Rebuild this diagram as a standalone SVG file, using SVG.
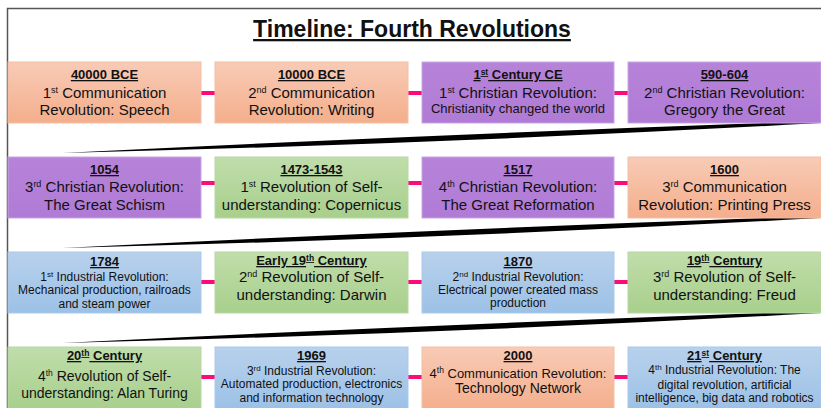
<svg xmlns="http://www.w3.org/2000/svg" width="821" height="408" viewBox="0 0 821 408">
<defs>
<linearGradient id="gO" x1="0" y1="0" x2="0" y2="1"><stop offset="0" stop-color="#F8CBB6"/><stop offset="1" stop-color="#F4AE8C"/></linearGradient>
<linearGradient id="gP" x1="0" y1="0" x2="0" y2="1"><stop offset="0" stop-color="#B783D9"/><stop offset="1" stop-color="#B07BD5"/></linearGradient>
<linearGradient id="gG" x1="0" y1="0" x2="0" y2="1"><stop offset="0" stop-color="#C0DDAB"/><stop offset="1" stop-color="#A8CF8C"/></linearGradient>
<linearGradient id="gB" x1="0" y1="0" x2="0" y2="1"><stop offset="0" stop-color="#B8D1EC"/><stop offset="1" stop-color="#9CC1E6"/></linearGradient>
</defs>
<style>
text{font-family:"Liberation Sans",Arial,sans-serif;fill:#111;text-anchor:middle}
.date{font-size:13px;font-weight:bold;text-decoration:underline}
.t15{font-size:15px}.t14{font-size:14px}.t13{font-size:13px}.t12{font-size:12px}
.o{fill:url(#gO);stroke:#F2BFA4;stroke-width:1}
.p{fill:url(#gP);stroke:#C8A5E4;stroke-width:1}
.g{fill:url(#gG);stroke:#B8D7A3;stroke-width:1}
.b{fill:url(#gB);stroke:#ABC9EA;stroke-width:1}
.con{stroke:#FA0D78;stroke-width:4}
.sw{fill:#000}
</style>
<rect width="821" height="408" fill="#fff"/>
<path d="M7.5 408 V8.5 H821" fill="none" stroke="#555" stroke-width="1.5"/>
<text x="412" y="37" style="font-size:23px;font-weight:bold;text-decoration:underline">Timeline: Fourth Revolutions</text>

<g id="connectors">
<line class="con" x1="201" y1="93" x2="215" y2="93"/>
<line class="con" x1="408" y1="93" x2="422" y2="93"/>
<line class="con" x1="614" y1="93" x2="628" y2="93"/>
<line class="con" x1="201" y1="183" x2="215" y2="183"/>
<line class="con" x1="408" y1="183" x2="422" y2="183"/>
<line class="con" x1="614" y1="183" x2="628" y2="183"/>
<line class="con" x1="201" y1="282" x2="215" y2="282"/>
<line class="con" x1="408" y1="282" x2="422" y2="282"/>
<line class="con" x1="614" y1="282" x2="628" y2="282"/>
<line class="con" x1="201" y1="377" x2="215" y2="377"/>
<line class="con" x1="408" y1="377" x2="422" y2="377"/>
<line class="con" x1="614" y1="377" x2="628" y2="377"/>
<path class="sw" d="M821 121 Q440 134 62 153 Q440 144 821 123 Z"/>
<path class="sw" d="M821 216 Q440 229 62 248 Q440 239 821 218 Z"/>
<path class="sw" d="M821 311 Q440 324 62 343 Q440 334 821 313 Z"/>
</g>

<g id="n1"><rect class="o" x="8" y="62" width="193" height="61"/>
<text x="104.5" y="79" class="date">40000 BCE</text>
<text x="104.5" y="98" class="t15">1<tspan dy="-5" font-size="9">st</tspan><tspan dy="5"> Communication</tspan></text>
<text x="104.5" y="115" class="t15">Revolution: Speech</text></g>

<g id="n2"><rect class="o" x="215" y="62" width="193" height="61"/>
<text x="311.5" y="79" class="date">10000 BCE</text>
<text x="311.5" y="98" class="t15">2<tspan dy="-5" font-size="9">nd</tspan><tspan dy="5"> Communication</tspan></text>
<text x="311.5" y="115" class="t15">Revolution: Writing</text></g>

<g id="n3"><rect class="p" x="422" y="62" width="192" height="61"/>
<text x="518" y="79" class="date">1<tspan dy="-4" font-size="8.5">st</tspan><tspan dy="4"> Century CE</tspan></text>
<text x="518" y="98" class="t15">1<tspan dy="-5" font-size="9">st</tspan><tspan dy="5"> Christian Revolution:</tspan></text>
<text x="518" y="113" class="t13">Christianity changed the world</text></g>

<g id="n4"><rect class="p" x="628" y="62" width="193" height="61"/>
<text x="724.5" y="79" class="date">590-604</text>
<text x="724.5" y="98" class="t15">2<tspan dy="-5" font-size="9">nd</tspan><tspan dy="5"> Christian Revolution:</tspan></text>
<text x="724.5" y="115" class="t15">Gregory the Great</text></g>

<g id="n5"><rect class="p" x="8" y="157" width="193" height="61"/>
<text x="104.5" y="174" class="date">1054</text>
<text x="104.5" y="192" class="t15">3<tspan dy="-5" font-size="9">rd</tspan><tspan dy="5"> Christian Revolution:</tspan></text>
<text x="104.5" y="210" class="t15">The Great Schism</text></g>

<g id="n6"><rect class="g" x="215" y="157" width="193" height="61"/>
<text x="311.5" y="174" class="date">1473-1543</text>
<text x="311.5" y="192" class="t15">1<tspan dy="-5" font-size="9">st</tspan><tspan dy="5"> Revolution of Self-</tspan></text>
<text x="311.5" y="210" class="t15">understanding: Copernicus</text></g>

<g id="n7"><rect class="p" x="422" y="157" width="192" height="61"/>
<text x="518" y="174" class="date">1517</text>
<text x="518" y="192" class="t15">4<tspan dy="-5" font-size="9">th</tspan><tspan dy="5"> Christian Revolution:</tspan></text>
<text x="518" y="210" class="t15">The Great Reformation</text></g>

<g id="n8"><rect class="o" x="628" y="157" width="193" height="61"/>
<text x="724.5" y="174" class="date">1600</text>
<text x="724.5" y="192" class="t15">3<tspan dy="-5" font-size="9">rd</tspan><tspan dy="5"> Communication</tspan></text>
<text x="724.5" y="210" class="t15">Revolution: Printing Press</text></g>

<g id="n9"><rect class="b" x="8" y="252" width="193" height="61"/>
<text x="104.5" y="266" class="date">1784</text>
<text x="104.5" y="281" class="t12">1<tspan dy="-4" font-size="8">st</tspan><tspan dy="4"> Industrial Revolution:</tspan></text>
<text x="104.5" y="294" class="t12">Mechanical production, railroads</text>
<text x="104.5" y="308" class="t12">and steam power</text></g>

<g id="n10"><rect class="g" x="215" y="252" width="193" height="61"/>
<text x="311.5" y="265" class="date">Early 19<tspan dy="-4" font-size="8.5">th</tspan><tspan dy="4"> Century</tspan></text>
<text x="311.5" y="282" class="t15">2<tspan dy="-5" font-size="9">nd</tspan><tspan dy="5"> Revolution of Self-</tspan></text>
<text x="311.5" y="300" class="t15">understanding: Darwin</text></g>

<g id="n11"><rect class="b" x="422" y="252" width="192" height="61"/>
<text x="518" y="266" class="date">1870</text>
<text x="518" y="281" class="t12">2<tspan dy="-4" font-size="8">nd</tspan><tspan dy="4"> Industrial Revolution:</tspan></text>
<text x="518" y="294" class="t12">Electrical power created mass</text>
<text x="518" y="307" class="t12">production</text></g>

<g id="n12"><rect class="g" x="628" y="252" width="193" height="61"/>
<text x="724.5" y="265" class="date">19<tspan dy="-4" font-size="8.5">th</tspan><tspan dy="4"> Century</tspan></text>
<text x="724.5" y="282" class="t15">3<tspan dy="-5" font-size="9">rd</tspan><tspan dy="5"> Revolution of Self-</tspan></text>
<text x="724.5" y="300" class="t15">understanding: Freud</text></g>

<g id="n13"><rect class="g" x="8" y="347" width="193" height="63"/>
<text x="104.5" y="360" class="date">20<tspan dy="-4" font-size="8.5">th</tspan><tspan dy="4"> Century</tspan></text>
<text x="104.5" y="381" class="t14">4<tspan dy="-5" font-size="8.5">th</tspan><tspan dy="5"> Revolution of Self-</tspan></text>
<text x="104.5" y="398" class="t14">understanding: Alan Turing</text></g>

<g id="n14"><rect class="b" x="215" y="347" width="193" height="63"/>
<text x="311.5" y="360" class="date">1969</text>
<text x="311.5" y="375" class="t12">3<tspan dy="-4" font-size="8">rd</tspan><tspan dy="4"> Industrial Revolution:</tspan></text>
<text x="311.5" y="388" class="t12">Automated production, electronics</text>
<text x="311.5" y="402" class="t12">and information technology</text></g>

<g id="n15"><rect class="o" x="422" y="347" width="192" height="63"/>
<text x="518" y="360" class="date">2000</text>
<text x="518" y="378" class="t13">4<tspan dy="-5" font-size="8.5">th</tspan><tspan dy="5"> Communication Revolution:</tspan></text>
<text x="518" y="393" class="t14">Technology Network</text></g>

<g id="n16"><rect class="b" x="628" y="347" width="193" height="63"/>
<text x="724.5" y="360" class="date">21<tspan dy="-4" font-size="8.5">st</tspan><tspan dy="4"> Century</tspan></text>
<text x="724.5" y="374" class="t12">4<tspan dy="-4" font-size="8">th</tspan><tspan dy="4"> Industrial Revolution: The</tspan></text>
<text x="724.5" y="389" class="t12">digital revolution, artificial</text>
<text x="724.5" y="402" class="t12">intelligence, big data and robotics</text></g>
</svg>
